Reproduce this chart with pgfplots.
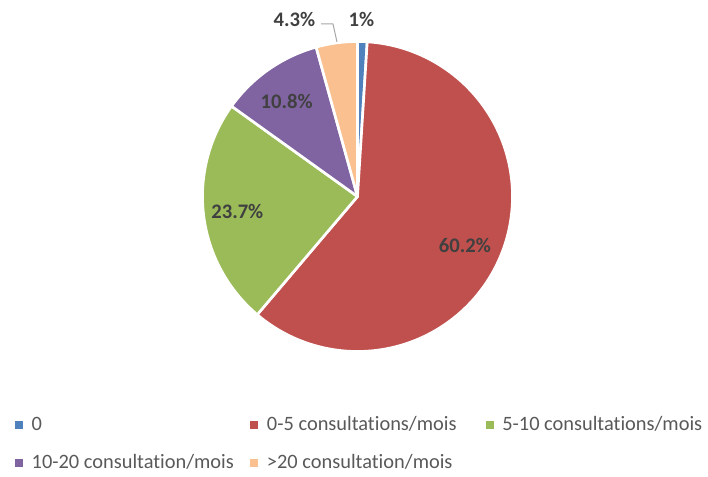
\documentclass[border=0pt]{standalone}
\usepackage{pgfplots}
\pgfplotsset{compat=1.18}
\usepackage{fontspec}
\setmainfont{Carlito}[Ligatures={NoCommon}]
\definecolor{cA}{HTML}{4F81BD}
\definecolor{cB}{HTML}{C0504D}
\definecolor{cC}{HTML}{9BBB59}
\definecolor{cD}{HTML}{8064A2}
\definecolor{cE}{HTML}{FAC090}
\definecolor{lblgray}{HTML}{404040}
\definecolor{leggray}{HTML}{595959}
\definecolor{leadgray}{HTML}{A6A6A6}
% percentages of each category
\newcommand\pA{1}
\newcommand\pB{60.2}
\newcommand\pC{23.7}
\newcommand\pD{10.8}
\newcommand\pE{4.3}
\begin{document}
\begin{tikzpicture}
\pgfmathsetmacro\aA{90}
\pgfmathsetmacro\aB{\aA-3.6*\pA}
\pgfmathsetmacro\aC{\aB-3.6*\pB}
\pgfmathsetmacro\aD{\aC-3.6*\pC}
\pgfmathsetmacro\aE{\aD-3.6*\pD}
\pgfmathsetmacro\aF{\aE-3.6*\pE}
\def\cx{357.5}\def\cy{196.5}\def\pr{155}
\begin{axis}[
  scale only axis, width=531pt, height=357.75pt,
  xmin=0, xmax=708, ymin=0, ymax=477, y dir=reverse,
  hide axis, clip=false,
  legend columns=3,
  legend image code/.code={\fill[#1,draw=none] (0pt,-3pt) rectangle (6pt,3pt); \path (11.5pt,0pt);},
  legend style={at={(axis cs:15,416)}, anchor=north west, draw=none, fill=none,
    inner sep=0pt, outer sep=0pt, row sep=14.5pt,
    nodes={inner sep=0pt, text height=11pt, text depth=3pt, text=leggray,
      font=\fontsize{15.3}{18}\selectfont},
    /tikz/every even column/.append style={column sep=14pt}},
  every axis plot/.append style={draw=white, line width=2pt, line join=round, samples=120},
]
\addplot[fill=cA, domain=\aB:\aA] ({\cx+\pr*cos(x)},{\cy-\pr*sin(x)}) -- (axis cs:\cx,\cy) -- cycle;
\addlegendentry{\makebox[150pt][l]{0}}
\addplot[fill=cB, domain=\aC:\aB] ({\cx+\pr*cos(x)},{\cy-\pr*sin(x)}) -- (axis cs:\cx,\cy) -- cycle;
\addlegendentry{\makebox[150pt][l]{0-5 consultations/mois}}
\addplot[fill=cC, domain=\aD:\aC] ({\cx+\pr*cos(x)},{\cy-\pr*sin(x)}) -- (axis cs:\cx,\cy) -- cycle;
\addlegendentry{\makebox[150pt][l]{5-10 consultations/mois}}
\addplot[fill=cD, domain=\aE:\aD] ({\cx+\pr*cos(x)},{\cy-\pr*sin(x)}) -- (axis cs:\cx,\cy) -- cycle;
\addlegendentry{\makebox[150pt][l]{10-20 consultation/mois}}
\addplot[fill=cE, domain=\aF:\aE] ({\cx+\pr*cos(x)},{\cy-\pr*sin(x)}) -- (axis cs:\cx,\cy) -- cycle;
\addlegendentry{\makebox[150pt][l]{>20 consultation/mois}}
\addplot[forget plot, draw=leadgray, line width=0.75pt, fill=none] coordinates {(321,24) (333,24) (337,42)};
\begin{scope}[every node/.style={font=\bfseries\fontsize{15.5}{18}\selectfont, text=lblgray, inner sep=0pt}]
\node at (axis cs:361.5,19.5) {1\%};
\node at (axis cs:294.5,19.5) {4.3\%};
\node at (axis cs:286.7,101) {10.8\%};
\node at (axis cs:237.3,211.7) {23.7\%};
\node at (axis cs:465,245) {60.2\%};
\end{scope}
\end{axis}
\path (current axis.south west) rectangle (current axis.north east);
\end{tikzpicture}
\end{document}
